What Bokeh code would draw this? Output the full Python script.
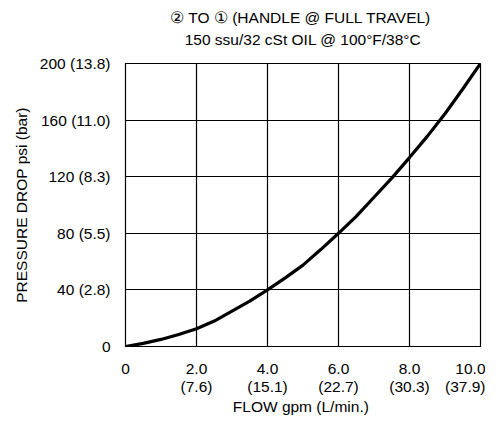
from bokeh.plotting import figure
from bokeh.models import LinearAxis, FixedTicker, Range1d, Title
from bokeh.embed import file_html
from bokeh.resources import INLINE

# data
flow_gpm = [0, 0.5, 1, 1.5, 2, 2.5, 3, 3.5, 4, 4.5, 5, 5.5, 6, 6.5, 7, 7.5, 8, 8.5, 9, 9.5, 10]
pressure_psi = [0, 2.2, 5, 8.5, 12.5, 18, 25, 32, 40, 48.5, 57.5, 68.5, 80, 92, 105.5, 119, 133.5, 148.5, 164.5, 182, 200]

x_ticks = [0, 2, 4, 6, 8, 10]
x_labels_gpm = ["0", "2.0", "4.0", "6.0", "8.0", "10.0"]
x_labels_lpm = ["", "(7.6)", "(15.1)", "(22.7)", "(30.3)", "(37.9)"]
y_ticks = [0, 40, 80, 120, 160, 200]
y_labels = ["0", "40 (2.8)", "80 (5.5)", "120 (8.3)", "160 (11.0)", "200 (13.8)"]

title_text = "\u2461 TO \u2460  (HANDLE @ FULL TRAVEL)"
subtitle_text = "150 ssu/32 cSt OIL @ 100\u00b0F/38\u00b0C"
x_title = "FLOW  gpm (L/min.)"
y_title = "PRESSURE DROP psi (bar)"

FONT = "Liberation Sans"
FS = "15.5px"

p = figure(width=485, height=417, output_backend="svg", toolbar_location=None,
           x_range=Range1d(0, 10), y_range=Range1d(0, 200),
           x_axis_location=None, y_axis_location=None,
           min_border_left=125, min_border_right=5, min_border_top=63, min_border_bottom=71)
p.outline_line_color = "black"
p.outline_line_width = 1.2
p.background_fill_color = "white"
p.border_fill_color = "white"


def style_axis(ax, standoff):
    ax.major_tick_out = 0
    ax.major_tick_in = 0
    ax.minor_tick_line_color = None
    ax.major_label_standoff = standoff
    ax.major_label_text_font = FONT
    ax.major_label_text_font_size = FS
    ax.major_label_text_color = "black"


def style_axis_label(ax, text, standoff):
    ax.axis_label = text
    ax.axis_label_standoff = standoff
    ax.axis_label_text_font = FONT
    ax.axis_label_text_font_size = FS
    ax.axis_label_text_font_style = "normal"
    ax.axis_label_text_color = "black"


# left axis
ya = LinearAxis(ticker=FixedTicker(ticks=y_ticks),
                major_label_overrides={t: l for t, l in zip(y_ticks, y_labels)})
style_axis(ya, 15)
ya.axis_line_color = "black"
p.add_layout(ya, "left")

# bottom axis, first line (gpm)
xa = LinearAxis(ticker=FixedTicker(ticks=x_ticks),
                major_label_overrides={t: l for t, l in zip(x_ticks, x_labels_gpm)})
style_axis(xa, 17)
xa.axis_line_color = "black"
p.add_layout(xa, "below")

# bottom axis, second line (L/min) with axis title
xb = LinearAxis(ticker=FixedTicker(ticks=x_ticks),
                major_label_overrides={t: l for t, l in zip(x_ticks, x_labels_lpm)})
style_axis(xb, 1)
xb.axis_line_color = None
xb.major_tick_line_color = None
style_axis_label(xb, x_title, 0)
p.add_layout(xb, "below")

# top: subtitle carried by a label-only axis, main title above it
xt = LinearAxis(ticker=FixedTicker(ticks=[]))
style_axis(xt, 0)
xt.axis_line_color = None
xt.major_tick_line_color = None
style_axis_label(xt, subtitle_text, 16)
p.add_layout(xt, "above")

# grid
p.xgrid.ticker = FixedTicker(ticks=x_ticks)
p.ygrid.ticker = FixedTicker(ticks=y_ticks)
for g in (p.xgrid, p.ygrid):
    g.grid_line_color = "black"
    g.grid_line_alpha = 1.0
    g.grid_line_width = 1.2

p.line(flow_gpm, pressure_psi, line_color="black", line_width=3.2)

tstyle = dict(text_font=FONT, text_font_size=FS, text_color="black",
              text_font_style="normal", align="center")
p.add_layout(Title(text=title_text, standoff=4, offset=-2.5, vertical_align="bottom", **tstyle), "above")
p.add_layout(Title(text=y_title, standoff=14, offset=19, **tstyle), "left")

open("out.html", "w").write(file_html(p, INLINE))
